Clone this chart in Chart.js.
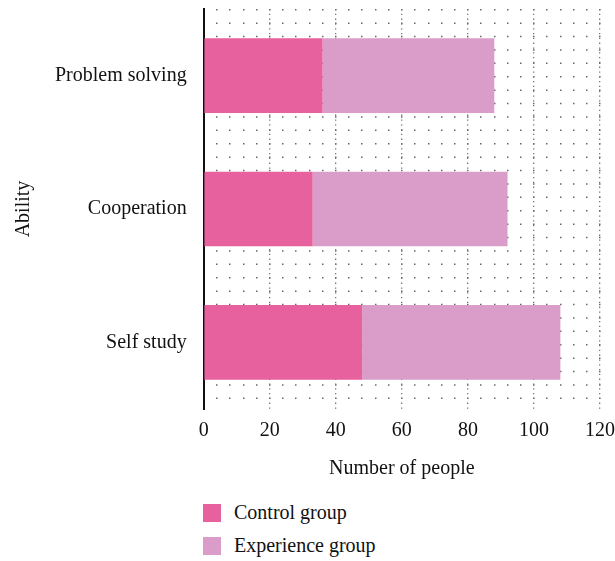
<!DOCTYPE html>
<html>
<head>
<meta charset="utf-8">
<script src="https://cdn.jsdelivr.net/npm/chart.js@4"></script>
<style>
  html, body { margin: 0; padding: 0; background: #fff; }
  #wrap { position: relative; width: 615px; height: 561px; overflow: hidden; }
  #chart { position: absolute; left: 0; top: -12px; }
  #legend { position: absolute; left: 203px; top: 496px; font-family: "Liberation Serif", serif; font-size: 20px; color: #111; }
  .item { display: flex; align-items: center; height: 33px; }
  .box { width: 18px; height: 18px; margin-right: 13px; }
</style>
</head>
<body>
<div id="wrap">
  <canvas id="chart" width="625" height="497"></canvas>
  <div id="legend"></div>
</div>
<script>
// dữ liệu
const abilities = ['Problem solving', 'Cooperation', 'Self study'];
const controlGroup = [36, 33, 48];
const experienceGroup = [52, 59, 60];
const xTickLabels = [0, 20, 40, 60, 80, 100, 120];

const controlColor = '#e6619d';
const experienceColor = '#da9cc8';
const serif = '"Liberation Serif", serif';

const chart = new Chart(document.getElementById('chart'), {
    type: 'bar',
    data: {
        labels: abilities,
        datasets: [{
            label: 'Control group',
            data: controlGroup,
            backgroundColor: controlColor,
            categoryPercentage: 0.8,
            barPercentage: 0.7
        }, {
            label: 'Experience group',
            data: experienceGroup,
            backgroundColor: experienceColor,
            categoryPercentage: 0.8,
            barPercentage: 0.7
        }]
    },
    options: {
        indexAxis: 'y',
        responsive: false,
        animation: false,
        layout: { padding: { top: 0, left: 8, right: 0 } },
        plugins: {
            legend: { display: false },
            tooltip: { enabled: false }
        },
        scales: {
            x: {
                stacked: true,
                min: 0,
                max: 120,
                ticks: {
                    stepSize: 4,
                    autoSkip: false,
                    maxRotation: 0,
                    padding: 10,
                    color: '#111',
                    font: { family: serif, size: 20 },
                    callback: v => xTickLabels.includes(v) ? v : ''
                },
                grid: { color: '#666', lineWidth: 1.5, drawTicks: false },
                border: { display: false, dash: [1.5, 11.9] },
                title: {
                    display: true,
                    text: 'Number of people',
                    color: '#111',
                    font: { family: serif, size: 20 },
                    padding: { top: 4 }
                }
            },
            x2: {
                type: 'linear',
                position: 'bottom',
                min: 0,
                max: 120,
                ticks: { display: false, stepSize: 20 },
                grid: { color: '#777', lineWidth: 1.3, drawTicks: false },
                border: { display: false, dash: [1.3, 3.5] }
            },
            y: {
                stacked: true,
                ticks: {
                    color: '#111',
                    padding: 9,
                    font: { family: serif, size: 20 }
                },
                grid: { display: false },
                border: { display: true, color: '#111', width: 2 },
                title: {
                    display: true,
                    text: 'Ability',
                    color: '#111',
                    font: { family: serif, size: 20 },
                    padding: { bottom: 10 }
                }
            }
        }
    }
});

// chú thích dạng danh sách dọc
const legend = document.getElementById('legend');
chart.data.datasets.forEach(ds => {
    const item = document.createElement('div');
    item.className = 'item';
    item.innerHTML = '<span class="box" style="background:' + ds.backgroundColor + '"></span>' + ds.label;
    legend.appendChild(item);
});
</script>
</body>
</html>
